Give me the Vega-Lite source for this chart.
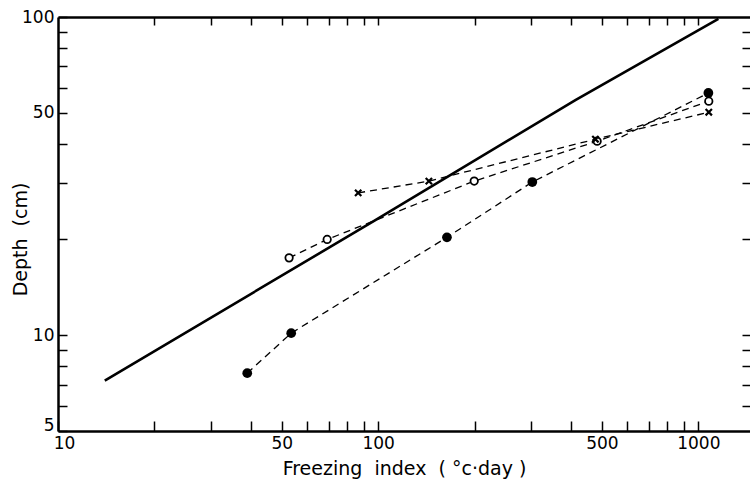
{
  "$schema": "https://vega.github.io/schema/vega-lite/v6.json",
  "width": 692,
  "height": 414,
  "autosize": "none",
  "padding": {"left": 58, "top": 17, "right": 0, "bottom": 54},
  "background": "white",
  "config": {"view": {"stroke": null}, "font": "DejaVu Sans"},
  "datasets": {
    "fit": [
      {"x": 14, "y": 7.2},
      {"x": 98, "y": 23},
      {"x": 413, "y": 54.8},
      {"x": 1155, "y": 98.6}
    ],
    "obs": [
      {"series": "filled", "x": 39, "y": 7.6},
      {"series": "filled", "x": 53.5, "y": 10.15},
      {"series": "filled", "x": 164, "y": 20.3},
      {"series": "filled", "x": 303, "y": 30.3},
      {"series": "filled", "x": 1075, "y": 57.7},
      {"series": "open", "x": 52.7, "y": 17.5},
      {"series": "open", "x": 69.3, "y": 20.0},
      {"series": "open", "x": 199.5, "y": 30.5},
      {"series": "open", "x": 483, "y": 40.7},
      {"series": "open", "x": 1078, "y": 54.4},
      {"series": "cross", "x": 86.6, "y": 28.0},
      {"series": "cross", "x": 144, "y": 30.5},
      {"series": "cross", "x": 477, "y": 41.3},
      {"series": "cross", "x": 1078, "y": 50.2}
    ]
  },
  "resolve": {"axis": {"x": "independent", "y": "independent"}},
  "layer": [
    {
      "data": {"name": "fit"},
      "mark": {"type": "line", "stroke": "black", "strokeWidth": 2.6, "clip": true},
      "encoding": {
        "x": {
          "field": "x", "type": "quantitative",
          "scale": {"type": "log", "domain": [10, 1450], "nice": false},
          "axis": {
            "orient": "bottom",
            "values": [10, 20, 30, 40, 50, 60, 70, 80, 90, 100, 200, 300, 400, 500, 600, 700, 800, 900, 1000],
            "format": "d",
            "labelExpr": "indexof([10, 50, 100, 500, 1000], datum.value) >= 0 ? datum.label : ''",
            "labelOverlap": false,
            "labelFlush": false,
            "labelOffset": {"condition": {"test": "datum.value == 10", "value": 6}, "value": 0},
            "tickSize": -10,
            "tickWidth": 1.5,
            "tickColor": "black",
            "domainColor": "black",
            "domainWidth": 2.5,
            "grid": false,
            "labelFontSize": 17,
            "labelColor": "black",
            "labelPadding": 14,
            "title": "Freezing\u00a0\u00a0index\u00a0\u00a0(\u00a0°c·day\u00a0)",
            "titleFontSize": 19,
            "titleFontWeight": "normal",
            "titleColor": "black",
            "titleY": 37,
            "titleBaseline": "middle"
          }
        },
        "y": {
          "field": "y", "type": "quantitative",
          "scale": {"type": "log", "domain": [5, 100], "nice": false},
          "axis": {
            "orient": "left",
            "values": [5, 6, 7, 8, 9, 10, 20, 30, 40, 50, 60, 70, 80, 90, 100],
            "format": "d",
            "labelExpr": "indexof([5, 10, 50, 100], datum.value) >= 0 ? datum.label : ''",
            "labelOverlap": false,
            "labelFlush": false,
            "labelOffset": {"condition": {"test": "datum.value == 5", "value": -6}, "value": 0},
            "tickSize": -9,
            "tickWidth": 1.5,
            "tickColor": "black",
            "domainColor": "black",
            "domainWidth": 2.5,
            "grid": false,
            "labelFontSize": 17,
            "labelColor": "black",
            "labelPadding": 13,
            "title": "Depth\u00a0\u00a0(cm)",
            "titleFontSize": 19,
            "titleFontWeight": "normal",
            "titleColor": "black",
            "titleX": -38,
            "titleY": 222,
            "titleBaseline": "middle",
            "titleAlign": "center"
          }
        }
      }
    },
    {
      "data": {"name": "obs"},
      "mark": {"type": "line", "stroke": "black", "strokeWidth": 1.3, "strokeDash": [7, 5]},
      "encoding": {
        "x": {
          "field": "x", "type": "quantitative",
          "scale": {"type": "log", "domain": [10, 1450], "nice": false},
          "axis": {
            "orient": "top",
            "values": [20, 30, 40, 50, 60, 70, 80, 90, 100, 200, 300, 400, 500, 600, 700, 800, 900, 1000],
            "labels": false,
            "tickSize": -8,
            "tickWidth": 1.5,
            "tickColor": "black",
            "domainColor": "black",
            "domainWidth": 2.5,
            "grid": false,
            "title": null
          }
        },
        "y": {
          "field": "y", "type": "quantitative",
          "scale": {"type": "log", "domain": [5, 100], "nice": false},
          "axis": {
            "orient": "right",
            "values": [6, 7, 8, 9, 10, 20, 30, 40, 50, 60, 70, 80, 90],
            "labels": false,
            "domain": false,
            "tickSize": -8,
            "tickWidth": 1.5,
            "tickColor": "black",
            "grid": false,
            "title": null
          }
        },
        "detail": {"field": "series", "type": "nominal"},
        "order": {"field": "x", "type": "quantitative"}
      }
    },
    {
      "data": {"name": "obs"},
      "transform": [{"filter": "datum.series === 'filled'"}],
      "mark": {"type": "point", "shape": "circle", "filled": true, "fill": "black", "size": 95, "opacity": 1},
      "encoding": {
        "x": {"field": "x", "type": "quantitative", "scale": {"type": "log", "domain": [10, 1450], "nice": false}, "axis": null},
        "y": {"field": "y", "type": "quantitative", "scale": {"type": "log", "domain": [5, 100], "nice": false}, "axis": null}
      }
    },
    {
      "data": {"name": "obs"},
      "transform": [{"filter": "datum.series === 'open'"}],
      "mark": {"type": "point", "shape": "circle", "filled": false, "fill": "white", "fillOpacity": 1, "stroke": "black", "strokeWidth": 1.8, "size": 55, "opacity": 1},
      "encoding": {
        "x": {"field": "x", "type": "quantitative", "scale": {"type": "log", "domain": [10, 1450], "nice": false}, "axis": null},
        "y": {"field": "y", "type": "quantitative", "scale": {"type": "log", "domain": [5, 100], "nice": false}, "axis": null}
      }
    },
    {
      "data": {"name": "obs"},
      "transform": [{"filter": "datum.series === 'cross'"}],
      "mark": {"type": "point", "shape": "M-1,-1L1,1M1,-1L-1,1", "filled": false, "stroke": "black", "strokeWidth": 2.2, "size": 40, "opacity": 1},
      "encoding": {
        "x": {"field": "x", "type": "quantitative", "scale": {"type": "log", "domain": [10, 1450], "nice": false}, "axis": null},
        "y": {"field": "y", "type": "quantitative", "scale": {"type": "log", "domain": [5, 100], "nice": false}, "axis": null}
      }
    }
  ]
}
